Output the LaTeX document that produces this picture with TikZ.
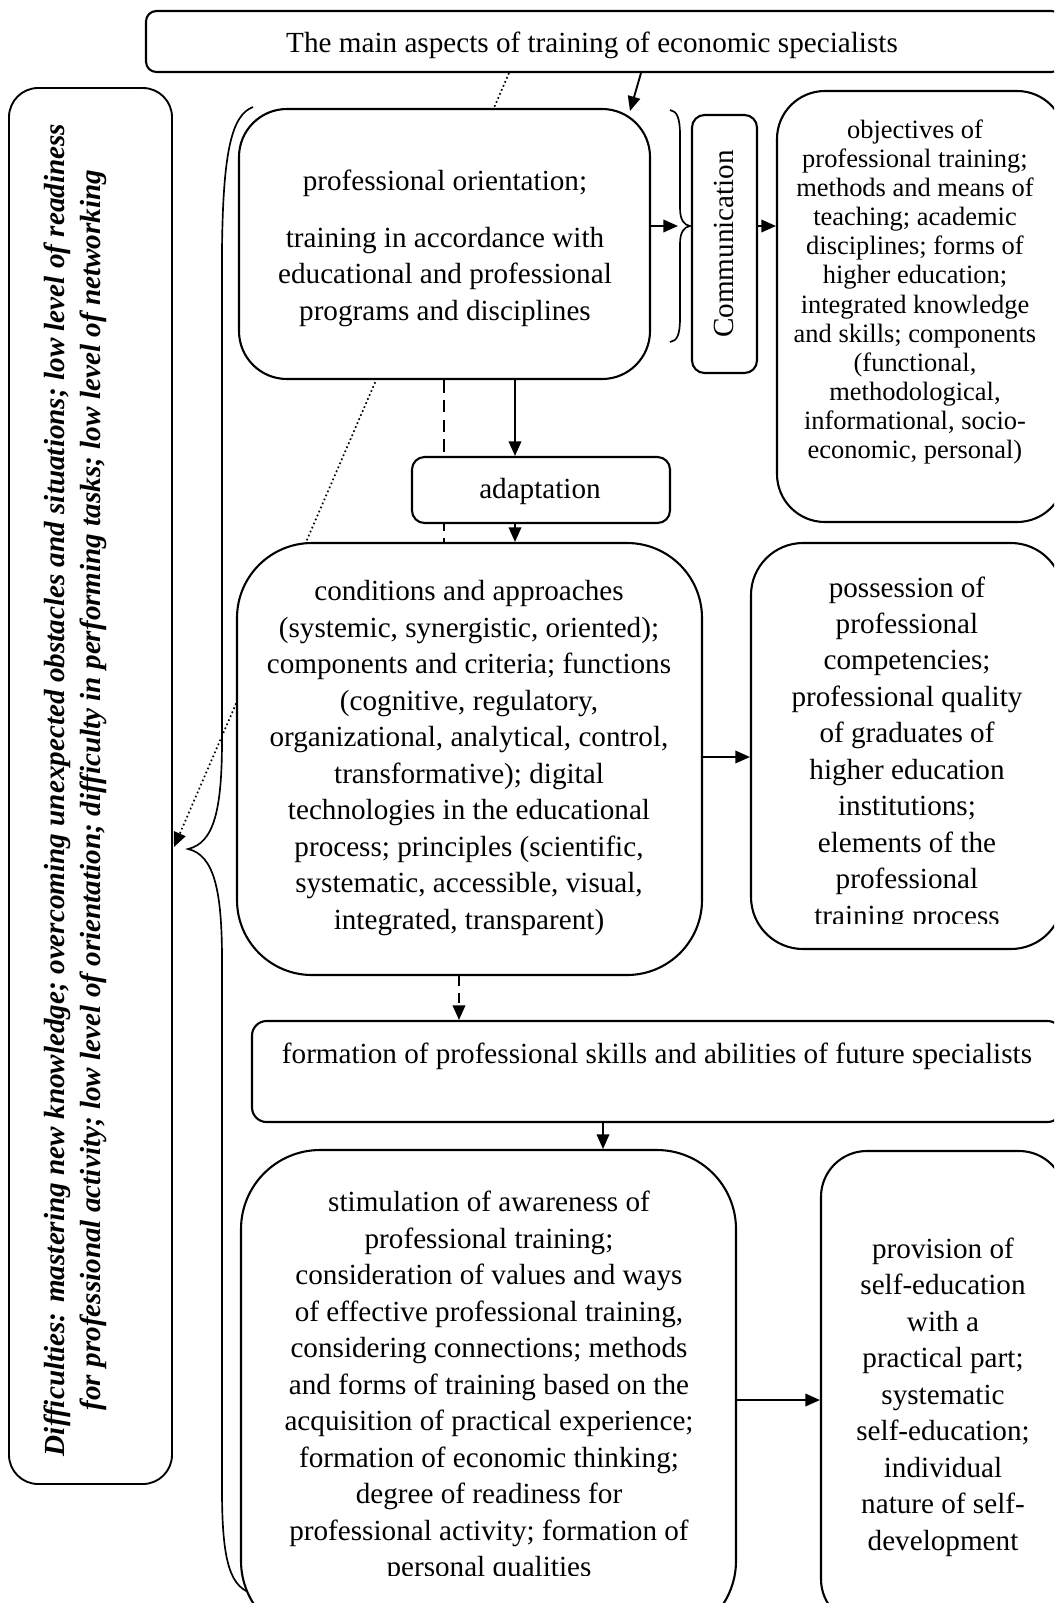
\documentclass[tikz,border=0pt]{standalone}
\usepackage{fontspec}
\setmainfont{Liberation Serif}
\usetikzlibrary{arrows.meta}
\begin{document}
\begin{tikzpicture}[x=0.48pt,y=-0.48pt,
  rb/.style n args={5}{draw, line width=1pt, fill=white, inner sep=0pt, rounded corners=#5,
     minimum width={(#3-#1)*0.48pt}, minimum height={(#4-#2)*0.48pt},
     at={({(#1+#3)/2},{(#2+#4)/2})}},
  txt/.style={align=center, inner sep=0pt, font=\fontsize{14}{17.5}\selectfont},
  arr/.style={line width=0.9pt, -{Triangle[length=7pt,width=6pt]}},
  bracestyle/.style={line width=0.8pt},
]
\useasboundingbox (0,0) rectangle (1054,1603);
\clip (0,0) rectangle (1054,1603);
\fill[white] (0,0) rectangle (1054,1603);

% title
\node[rb={146}{11}{1062}{72}{5pt}] (T) {};
\node[txt] (Tt) at (592,45) {The main aspects of training of economic specialists};

% left box
\node[rb={9}{88}{172}{1484}{14pt}, line width=0.9pt] (L) {};
\node[txt, rotate=90, font=\fontsize{14}{17.3}\selectfont\bfseries\itshape] (Lt) at (75,790)
 {Difficulties: mastering new knowledge; overcoming unexpected obstacles and situations; low level of readiness\\
  for professional activity; low level of orientation; difficulty in performing tasks; low level of networking};

% dotted connector
\coordinate (dT) at (509,72);
\coordinate (dL) at (174,847);
\draw[line width=0.8pt, dash pattern=on 0.8pt off 1.3pt, -{Triangle[length=7pt,width=6pt]}] (T.south -| dT) -- (dL);

% left brace
\draw[bracestyle] (253,107) .. controls (232,115) and (223,150) .. (222,250) -- (222,740)
  .. controls (222,810) and (214,843) .. (188,849) .. controls (214,855) and (222,890) .. (222,960)
  -- (222,1490) .. controls (222,1565) and (231,1588) .. (254,1594);

% box A
\node[rb={239}{109}{650}{379}{23pt}] (A) {};
\node[txt] (At) at (445,248) {professional orientation;\\[10pt]
 training in accordance with\\ educational and professional\\ programs and disciplines};

% right brace
\draw[bracestyle] (670,110) .. controls (677,111) and (680,118) .. (680,135) -- (680,208)
  .. controls (680,220) and (684,225) .. (690,226) .. controls (684,227) and (680,232) .. (680,244)
  -- (680,318) .. controls (680,335) and (677,341) .. (670,342);

% communication
\node[rb={692}{115}{757}{373}{6pt}] (Cm) {};
\node[txt, rotate=90] (Cmt) at (724,244) {Communication};

% box B
\node[rb={777}{91}{1065}{522}{23pt}] (B) {};
\node[txt, font=\fontsize{12.7}{14}\selectfont] (Bt) at (915,292) {objectives of\\ professional training;\\ methods and means of\\ teaching; academic\\ disciplines; forms of\\ higher education;\\ integrated knowledge\\ and skills; components\\ (functional,\\ methodological,\\ informational, socio-\\ economic, personal)};

% box C
\node[rb={237}{543}{702}{975}{36pt}] (Cc) {};
\node[txt] (Cct) at (469,758) {conditions and approaches\\ (systemic, synergistic, oriented);\\ components and criteria; functions\\ (cognitive, regulatory,\\ organizational, analytical, control,\\ transformative); digital\\ technologies in the educational\\ process; principles (scientific,\\ systematic, accessible, visual,\\ integrated, transparent)};

% dashed A -> C (behind adaptation)
\coordinate (xd) at (444,0);
\draw[line width=0.9pt, dash pattern=on 6pt off 3.5pt] (A.south -| xd) -- (Cc.north -| xd);

% adaptation
\node[rb={412}{457}{670}{523}{6pt}] (D) {};
\node[txt] (Dt) at (540,491) {adaptation};

% box E
\node[rb={751}{543}{1063}{949}{25pt}] (E) {};
\begin{scope}
\clip (751,543) rectangle (1063,923);
\node[txt] (Et) at (907,754) {possession of\\ professional\\ competencies;\\ professional quality\\ of graduates of\\ higher education\\ institutions;\\ elements of the\\ professional\\ training process};
\end{scope}

% box G
\node[rb={252}{1021}{1062}{1122}{7pt}] (G) {};
\node[txt] (Gt) at (657,1056) {formation of professional skills and abilities of future specialists};

% box F
\node[rb={241}{1150}{736}{1640}{38pt}] (F) {};
\begin{scope}
\clip (241,1150) rectangle (736,1575);
\node[txt] (Ft) at (489,1387) {stimulation of awareness of\\ professional training;\\ consideration of values and ways\\ of effective professional training,\\ considering connections; methods\\ and forms of training based on the\\ acquisition of practical experience;\\ formation of economic thinking;\\ degree of readiness for\\ professional activity; formation of\\ personal qualities};
\end{scope}

% box H
\node[rb={821}{1151}{1065}{1625}{22pt}] (H) {};
\node[txt] (Ht) at (943,1397) {provision of\\ self-education\\ with a\\ practical part;\\ systematic\\ self-education;\\ individual\\ nature of self-\\ development};

% connectors
\coordinate (ta1) at (641,72);
\coordinate (ta2) at (630,111);
\draw[arr] (T.south -| ta1) -- (ta2);

\coordinate (yb) at (0,226);
\coordinate (brA) at (678,226);
\draw[arr] (A.east |- yb) -- (brA);
\draw[arr] (Cm.east |- yb) -- (B.west |- yb);

\coordinate (xAD) at (515,0);
\draw[arr] (A.south -| xAD) -- (D.north -| xAD);
\draw[arr] (D.south -| xAD) -- (Cc.north -| xAD);

\coordinate (yc) at (0,757);
\draw[arr] (Cc.east |- yc) -- (E.west |- yc);

\coordinate (xg) at (459,0);
\draw[arr, dash pattern=on 5pt off 3pt] (Cc.south -| xg) -- (G.north -| xg);

\coordinate (xf) at (603,0);
\draw[arr] (G.south -| xf) -- (F.north -| xf);

\coordinate (yh) at (0,1400);
\draw[arr] (F.east |- yh) -- (H.west |- yh);
\end{tikzpicture}
\end{document}
